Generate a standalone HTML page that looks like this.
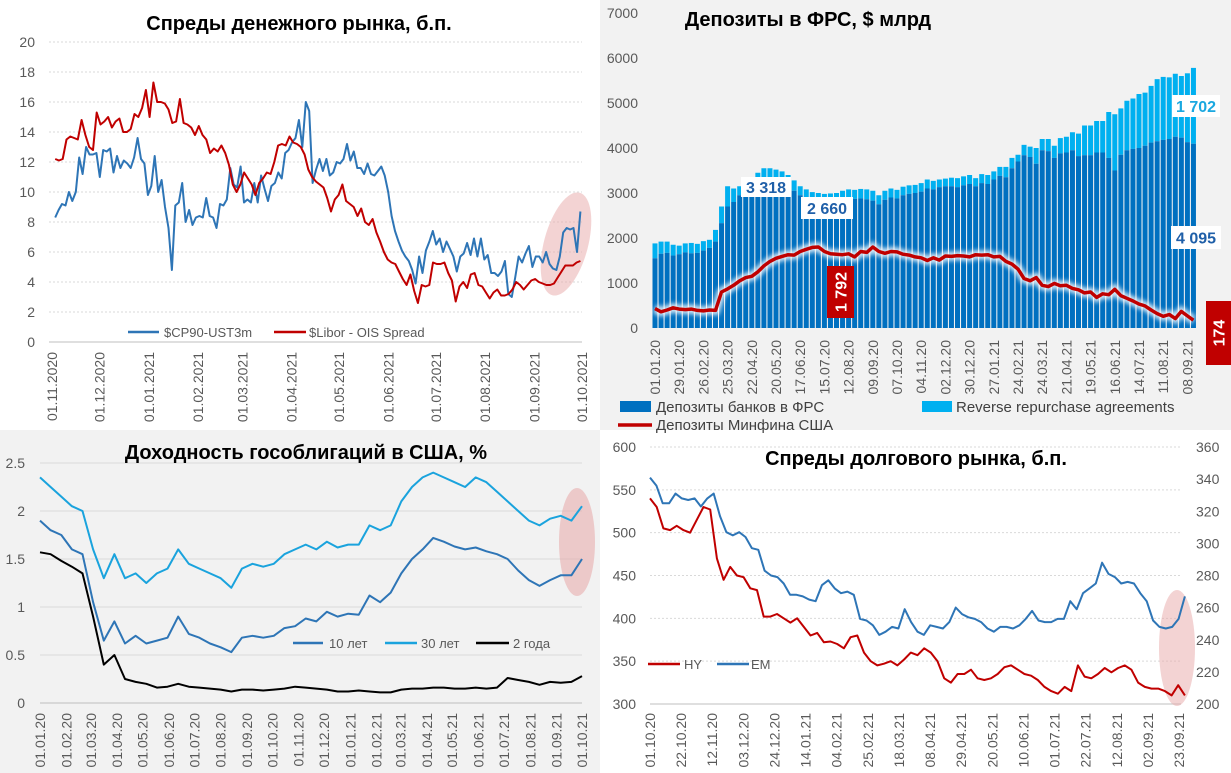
<!DOCTYPE html>
<html><head><meta charset="utf-8">
<style>
body{margin:0;width:1231px;height:773px;overflow:hidden;background:#fff;font-family:"Liberation Sans","DejaVu Sans",sans-serif;}
svg{display:block}
</style></head>
<body>
<svg id="c" width="1231" height="773" xmlns="http://www.w3.org/2000/svg">
<defs><filter id="glow" x="-5%" y="-50%" width="110%" height="200%"><feGaussianBlur stdDeviation="2.5"/></filter></defs>
<rect x="0" y="0" width="600" height="430" fill="#ffffff"/>
<rect x="600" y="0" width="631" height="430" fill="#f2f2f2"/>
<rect x="0" y="430" width="600" height="343" fill="#f2f2f2"/>
<rect x="600" y="430" width="631" height="343" fill="#ffffff"/>
</svg>
<script>
// ===== Chart 1: money market spreads =====
const c1Ticks = ["01.11.2020","01.12.2020","01.01.2021","01.02.2021","01.03.2021","01.04.2021","01.05.2021","01.06.2021","01.07.2021","01.08.2021","01.09.2021","01.10.2021"];
const c1YTicks = [0,2,4,6,8,10,12,14,16,18,20];
const c1Cp90 = [8.3,8.8,9.2,9.1,10,9.4,10,12.3,11.2,13,12.5,12.5,12.6,11,12.8,12.7,12.9,11.3,12.4,11.6,12.1,11.9,11.6,12.3,13.6,12.2,11.9,9.8,10.4,12.4,10,10.8,9,7.6,4.8,9.1,9.3,10.6,8,8.8,7.8,8.3,8.4,8.3,9.6,8.4,8.3,7.6,9.2,9.1,9.5,11.6,10.5,10.3,11.7,9.3,9.5,9.3,10.6,9.3,11.1,10.2,9.4,10.4,10.6,11.3,10.9,12.6,12.8,13.3,13.6,14.8,13,16,15.4,10.6,11.5,12.2,11.4,12.2,11.1,11.3,12,11.9,12.2,13.2,12.1,12.7,11.6,11.6,11.2,11.9,11.2,11.1,11.4,11.7,11.1,10,8.4,7.4,6.7,6.1,5.7,5.4,4.8,3.9,5.7,4.6,6.1,6.7,7.4,6.5,6.9,6,6.7,6.2,5.7,4.7,5.7,5.9,6.6,5.8,6.9,5.7,6.9,5.5,5.8,4.6,4.6,4.4,4.7,5.4,3.2,3.0,4.3,5.7,5.3,5.9,6.4,5.0,5.7,5.7,5.3,6.0,5.2,4.9,4.8,5.7,7.3,7.6,7.5,7.6,6,8.7];
const c1Libor = [12.2,12.1,12.2,13.5,13.7,13.6,13.5,14.8,13.8,13,12.8,15.3,14.5,14.7,15,14.3,14.7,14.9,14,14,14.2,15.2,15,15.6,16.8,15,17.3,16,16,15.9,15.5,14.6,14.7,16.2,14.6,14.5,14.3,13.8,14.4,13.8,13.5,12.6,12.9,12.7,13.1,12.6,11.8,10.5,10,10.5,11.3,10.9,10.5,9.8,10.6,10.9,11.3,11.2,12.0,13.1,13.2,13.1,13.7,13.3,13.2,13,12.5,11.5,11,10.7,10.5,10.3,9.6,8.7,9.5,9.8,10.5,9.4,9.2,9.0,8.4,8.9,8.0,7.8,8.2,7.3,6.7,6.0,5.5,5.3,5.2,4.7,4.2,3.8,4.5,3.4,2.6,3.8,3.7,3.8,5.3,5.2,5.2,5.3,4.6,4.1,2.7,3.7,4.0,3.6,4.5,4.6,3.8,3.7,3.3,2.9,3.3,3.5,3.1,3.1,3.2,3.5,4.0,3.8,3.5,3.8,4.1,4.2,4.0,3.9,3.8,3.8,3.9,4.3,4.7,5.1,5.1,5.1,5.3,5.4];

// ===== Chart 2: Fed deposits =====
const c2Ticks = ["01.01.20","29.01.20","26.02.20","25.03.20","22.04.20","20.05.20","17.06.20","15.07.20","12.08.20","09.09.20","07.10.20","04.11.20","02.12.20","30.12.20","27.01.21","24.02.21","24.03.21","21.04.21","19.05.21","16.06.21","14.07.21","11.08.21","08.09.21"];
const c2YTicks = [0,1000,2000,3000,4000,5000,6000,7000];
const c2Banks = [1550,1650,1670,1610,1640,1680,1660,1670,1720,1780,1920,2330,2700,2800,2950,3000,3100,3200,3300,3318,3280,3200,3100,3050,2950,2850,2750,2700,2660,2700,2750,2800,2850,2870,2880,2860,2830,2750,2850,2900,2880,2950,2980,3000,3030,3100,3080,3130,3150,3150,3130,3170,3200,3150,3220,3200,3300,3380,3350,3550,3700,3840,3800,3650,3950,3930,3780,3880,3900,3950,3820,3840,3840,3900,3900,3780,3500,3850,3950,3980,4000,4050,4120,4150,4180,4200,4250,4230,4130,4095];
const c2Total = [1880,1920,1920,1850,1830,1880,1890,1870,1930,1960,2180,2700,3150,3100,3150,3200,3300,3450,3550,3550,3520,3480,3400,3280,3150,3080,3020,3000,2980,2990,3000,3050,3080,3070,3090,3080,3050,2950,3050,3100,3070,3140,3170,3180,3220,3300,3270,3300,3320,3340,3330,3370,3400,3330,3420,3400,3480,3580,3580,3780,3850,4070,4030,4000,4200,4200,4050,4220,4250,4350,4320,4500,4500,4600,4600,4800,4750,4880,5050,5100,5200,5230,5380,5530,5580,5570,5650,5600,5660,5780];
const c2Treasury = [430,360,400,450,420,410,420,390,380,400,390,800,870,950,1050,1120,1150,1250,1380,1480,1550,1590,1630,1620,1700,1750,1792,1800,1700,1650,1640,1630,1650,1580,1700,1680,1800,1700,1660,1700,1690,1640,1620,1580,1560,1500,1560,1510,1600,1590,1610,1600,1580,1630,1620,1630,1580,1590,1480,1420,1310,1100,1050,1120,950,920,990,940,950,880,850,780,800,680,760,740,860,720,660,600,530,490,400,320,260,300,210,370,270,174];

// ===== Chart 3: Treasury yields =====
const c3Ticks = ["01.01.20","01.02.20","01.03.20","01.04.20","01.05.20","01.06.20","01.07.20","01.08.20","01.09.20","01.10.20","01.11.20","01.12.20","01.01.21","01.02.21","01.03.21","01.04.21","01.05.21","01.06.21","01.07.21","01.08.21","01.09.21","01.10.21"];
const c3YTicks = [0,0.5,1,1.5,2,2.5];
const c3Y10 = [1.9,1.8,1.75,1.6,1.55,1.05,0.65,0.85,0.62,0.7,0.62,0.65,0.68,0.9,0.72,0.68,0.62,0.58,0.53,0.68,0.7,0.68,0.7,0.78,0.8,0.88,0.85,0.95,0.9,0.93,0.92,1.12,1.05,1.15,1.35,1.5,1.6,1.72,1.68,1.63,1.6,1.62,1.58,1.55,1.5,1.38,1.28,1.22,1.28,1.33,1.33,1.5];
const c3Y30 = [2.35,2.25,2.15,2.05,2.0,1.6,1.3,1.55,1.3,1.35,1.25,1.35,1.4,1.6,1.45,1.4,1.35,1.3,1.2,1.4,1.45,1.42,1.45,1.55,1.6,1.65,1.6,1.68,1.62,1.65,1.65,1.85,1.8,1.85,2.1,2.25,2.35,2.4,2.35,2.3,2.25,2.35,2.3,2.2,2.1,2.0,1.9,1.85,1.92,1.95,1.9,2.05];
const c3Y2 = [1.57,1.55,1.48,1.42,1.35,0.9,0.4,0.5,0.25,0.22,0.2,0.16,0.17,0.2,0.17,0.16,0.15,0.14,0.12,0.14,0.14,0.13,0.14,0.15,0.17,0.16,0.15,0.14,0.12,0.12,0.13,0.12,0.11,0.11,0.14,0.15,0.15,0.16,0.16,0.15,0.15,0.16,0.15,0.16,0.26,0.24,0.22,0.19,0.22,0.21,0.22,0.28];

// ===== Chart 4: debt market spreads =====
const c4Ticks = ["01.10.20","22.10.20","12.11.20","03.12.20","24.12.20","14.01.21","04.02.21","25.02.21","18.03.21","08.04.21","29.04.21","20.05.21","10.06.21","01.07.21","22.07.21","12.08.21","02.09.21","23.09.21"];
const c4LeftTicks = [300,350,400,450,500,550,600];
const c4RightTicks = [200,220,240,260,280,300,320,340,360];
const c4HY = [540,530,505,503,508,503,500,515,530,527,470,445,460,450,448,435,433,402,402,405,400,395,400,390,380,383,372,373,370,365,378,380,360,350,345,347,350,345,352,360,357,365,360,350,330,325,335,335,340,330,328,330,335,343,345,340,335,333,328,320,315,312,320,315,345,332,330,335,342,337,342,345,340,325,320,318,318,315,310,322,310];
const c4EM = [341,336,325,325,331,328,327,328,323,328,331,317,307,305,307,304,297,296,283,280,279,275,268,268,267,265,264,274,277,272,269,270,268,253,252,249,243,245,248,247,259,251,245,243,249,248,247,251,260,256,254,253,251,247,245,248,248,247,249,253,258,252,251,251,253,253,264,259,269,272,275,288,281,279,275,276,275,269,264,252,248,247,248,253,267];

const NS = "http://www.w3.org/2000/svg";
const svg = document.getElementById('c');
function mk(tag, attrs, parent){
  const e = document.createElementNS(NS, tag);
  for (const k in attrs) e.setAttribute(k, attrs[k]);
  (parent || svg).appendChild(e);
  return e;
}
function txt(x, y, s, attrs){
  const t = mk('text', Object.assign({x:x, y:y}, attrs||{}));
  t.textContent = s;
  return t;
}
function pathFrom(vals, xf, yf){
  return vals.map((v,i)=>(i?'L':'M')+xf(i).toFixed(1)+' '+yf(v).toFixed(1)).join(' ');
}
const DAY = 86400000;
function dnum(s){ const p=s.split('.'); let y=+p[2]; if(y<100) y+=2000; return Date.UTC(y,+p[1]-1,+p[0])/DAY; }
const tickStyle = {'font-size':'13', fill:'#595959'};

// ---------- Chart 1 ----------
const c1Start = dnum("01.11.2020"), c1End = dnum("01.10.2021");
const x1 = d => 52 + (d - c1Start)/(c1End - c1Start)*530;
const y1 = v => 342 - v*15;
c1YTicks.forEach(v=>{
  const g = mk('line',{x1:49,x2:582,y1:y1(v),y2:y1(v),stroke: v===0?'#bfbfbf':'#d9d9d9','stroke-dasharray': v===0?'none':'2 2','stroke-width':1});
  
  
  const t = txt(35, y1(v)+5, String(v), Object.assign({'text-anchor':'end'}, tickStyle, {'font-size':'14'}));
  
  
});
c1Ticks.forEach(s=>{
  const x = x1(dnum(s));
  const t = txt(0,0,s,Object.assign({'text-anchor':'end',transform:`translate(${x+5},352) rotate(-90)`}, tickStyle, {'font-size':'14'}));
  
  
});
const c1s0 = c1Start+2, c1s1 = c1End-1;
const e1 = mk('ellipse',{cx:566,cy:244,rx:22,ry:53,fill:'#e8a8a8','fill-opacity':0.5,transform:'rotate(15 566 244)'});


const p1b = mk('path',{d:pathFrom(c1Cp90, i=>x1(c1s0+i*(c1s1-c1s0)/(c1Cp90.length-1)), y1), fill:'none', stroke:'#2e75b6','stroke-width':2,'stroke-linejoin':'round'});


const p1r = mk('path',{d:pathFrom(c1Libor, i=>x1(c1s0+i*(c1s1-c1s0)/(c1Libor.length-1)), y1), fill:'none', stroke:'#c00000','stroke-width':2,'stroke-linejoin':'round'});


const t1 = txt(299, 30, 'Спреды денежного рынка, б.п.', {'text-anchor':'middle','font-size':'20','font-weight':'bold',fill:'#000'});


const l1a = mk('line',{x1:128,x2:159,y1:332,y2:332,stroke:'#2e75b6','stroke-width':2.5});


const l1at = txt(164,337,'$CP90-UST3m',{'font-size':'13',fill:'#595959'});


const l1b = mk('line',{x1:274,x2:306,y1:332,y2:332,stroke:'#c00000','stroke-width':2.5});


const l1bt = txt(309,337,'$Libor - OIS Spread',{'font-size':'13',fill:'#595959'});



// ---------- Chart 2 ----------
const x2 = i => 655 + i*6.05;
const y2 = v => 328 - v*0.045;
c2YTicks.forEach(v=>{
  const t = txt(638, y2(v)+5, String(v), Object.assign({'text-anchor':'end'}, tickStyle, {'font-size':'14'}));
  
  
});
c2Ticks.forEach((s,k)=>{
  const x = x2(k*4);
  const t = txt(0,0,s,Object.assign({'text-anchor':'end',transform:`translate(${x+5},340) rotate(-90)`}, tickStyle, {'font-size':'14'}));
  
  
});
c2Total.forEach((v,i)=>{
  const r = mk('rect',{x:x2(i)-2.5,y:y2(v),width:5,height:y2(c2Banks[i])-y2(v),fill:'#00b0f0'});
  
  
});
c2Banks.forEach((v,i)=>{
  const r = mk('rect',{x:x2(i)-2.5,y:y2(v),width:5,height:y2(0)-y2(v),fill:'#0070c0'});
  
  
});
const tg = mk('path',{d:pathFrom(c2Treasury, x2, y2), fill:'none', stroke:'#ffffff','stroke-width':9,'stroke-opacity':0.85,filter:'url(#glow)'});


const tl = mk('path',{d:pathFrom(c2Treasury, x2, y2), fill:'none', stroke:'#c00000','stroke-width':3.5,'stroke-linejoin':'round'});


function lbl(x,y,w,h,s,col,name,bg,rot){
  const r = mk('rect',{x:x,y:y,width:w,height:h,fill:bg});
  
  
  const cx=x+w/2, cy=y+h/2;
  const t = txt(cx, cy+6, s, {'text-anchor':'middle','font-size':'16','font-weight':'bold',fill:col, transform: rot?`rotate(-90 ${cx} ${cy})`:''});
  
  
}
lbl(741,177,50,20,'3 318','#1f5fa8','label-3318','#ffffff',false);
lbl(801,197,52,22,'2 660','#1f5fa8','label-2660','#ffffff',false);
lbl(1172,95,48,22,'1 702','#1aa8e0','label-1702','#ffffff',false);
lbl(1171,226,50,23,'4 095','#1f5fa8','label-4095','#ffffff',false);
lbl(827,266,27,52,'1 792','#ffffff','label-1792','#c00000',true);
lbl(1206,301,25,64,'174','#ffffff','label-174','#c00000',true);
const t2 = txt(808, 26, 'Депозиты в ФРС, $ млрд', {'text-anchor':'middle','font-size':'20','font-weight':'bold',fill:'#000'});


const lg1 = mk('rect',{x:620,y:401,width:31,height:11,fill:'#0070c0'});


const lg1t = txt(656,412,'Депозиты банков в ФРС',{'font-size':'15',fill:'#404040'});


const lg2 = mk('rect',{x:922,y:401,width:30,height:11,fill:'#00b0f0'});


const lg2t = txt(956,412,'Reverse repurchase agreements',{'font-size':'15',fill:'#404040'});


const lg3 = mk('line',{x1:618,x2:652,y1:425,y2:425,stroke:'#c00000','stroke-width':3.5});


const lg3t = txt(656,430,'Депозиты Минфина США',{'font-size':'15',fill:'#404040'});



// ---------- Chart 3 ----------
const c3Start = dnum("01.01.20"), c3End = dnum("01.10.21");
const x3 = d => 40 + (d - c3Start)/(c3End - c3Start)*542;
const y3 = v => 703 - v*96;
c3YTicks.forEach(v=>{
  const g = mk('line',{x1:40,x2:582,y1:y3(v),y2:y3(v),stroke: v===0?'#bfbfbf':'#d9d9d9','stroke-width':1});
  
  
  const t = txt(25, y3(v)+5, String(v), Object.assign({'text-anchor':'end'}, tickStyle, {'font-size':'14'}));
  
  
});
c3Ticks.forEach(s=>{
  const x = x3(dnum(s));
  const t = txt(0,0,s,Object.assign({'text-anchor':'end',transform:`translate(${x+5},713) rotate(-90)`}, tickStyle, {'font-size':'14'}));
  
  
});
const e3 = mk('ellipse',{cx:577,cy:542,rx:18,ry:54,fill:'#e8a8a8','fill-opacity':0.55});


const c3x = n => i => x3(c3Start + i*(c3End-c3Start)/(n-1));
const p30 = mk('path',{d:pathFrom(c3Y30, c3x(c3Y30.length), y3), fill:'none', stroke:'#1aa3dd','stroke-width':2,'stroke-linejoin':'round'});


const p10 = mk('path',{d:pathFrom(c3Y10, c3x(c3Y10.length), y3), fill:'none', stroke:'#2e75b6','stroke-width':2,'stroke-linejoin':'round'});


const p2y = mk('path',{d:pathFrom(c3Y2, c3x(c3Y2.length), y3), fill:'none', stroke:'#000000','stroke-width':2,'stroke-linejoin':'round'});


const t3 = txt(306, 459, 'Доходность гособлигаций в США, %', {'text-anchor':'middle','font-size':'20','font-weight':'bold',fill:'#000'});


const la = mk('line',{x1:293,x2:323,y1:643,y2:643,stroke:'#2e75b6','stroke-width':2.5});


const lat = txt(329,648,'10 лет',{'font-size':'13',fill:'#595959'});


const lb = mk('line',{x1:385,x2:417,y1:643,y2:643,stroke:'#1aa3dd','stroke-width':2.5});


const lbt = txt(421,648,'30 лет',{'font-size':'13',fill:'#595959'});


const lc = mk('line',{x1:476,x2:509,y1:643,y2:643,stroke:'#000','stroke-width':2.5});


const lct = txt(513,648,'2 года',{'font-size':'13',fill:'#595959'});



// ---------- Chart 4 ----------
const c4Start = dnum("01.10.20"), c4End = dnum("23.09.21");
const x4 = d => 650 + (d - c4Start)/(c4End - c4Start)*529;
const yL = v => 704 - (v-300)*0.8567;
const yR = v => 704 - (v-200)*1.606;
c4LeftTicks.forEach(v=>{
  const g = mk('line',{x1:650,x2:1181,y1:yL(v),y2:yL(v),stroke: v===300?'#bfbfbf':'#d9d9d9','stroke-dasharray': v===300?'none':'2 2','stroke-width':1});
  
  
  const t = txt(636, yL(v)+5, String(v), Object.assign({'text-anchor':'end'}, tickStyle, {'font-size':'14'}));
  
  
});
c4RightTicks.forEach(v=>{
  const t = txt(1196, yR(v)+5, String(v), Object.assign({'text-anchor':'start'}, tickStyle, {'font-size':'14'}));
  
  
});
c4Ticks.forEach(s=>{
  const x = x4(dnum(s));
  const t = txt(0,0,s,Object.assign({'text-anchor':'end',transform:`translate(${x+5},713) rotate(-90)`}, tickStyle, {'font-size':'14'}));
  
  
});
const e4 = mk('ellipse',{cx:1177,cy:648,rx:18,ry:58,fill:'#e8a8a8','fill-opacity':0.5});


const c4e = c4Start + 361;
const c4x = n => i => x4(c4Start + i*(c4e-c4Start)/(n-1));
const pem = mk('path',{d:pathFrom(c4EM, c4x(c4EM.length), yR), fill:'none', stroke:'#2e75b6','stroke-width':2,'stroke-linejoin':'round'});


const phy = mk('path',{d:pathFrom(c4HY, c4x(c4HY.length), yL), fill:'none', stroke:'#c00000','stroke-width':2,'stroke-linejoin':'round'});


const t4 = txt(916, 465, 'Спреды долгового рынка, б.п.', {'text-anchor':'middle','font-size':'20','font-weight':'bold',fill:'#000'});


const lh = mk('line',{x1:648,x2:680,y1:664,y2:664,stroke:'#c00000','stroke-width':2.5});


const lht = txt(684,669,'HY',{'font-size':'13',fill:'#595959'});


const le = mk('line',{x1:717,x2:749,y1:664,y2:664,stroke:'#2e75b6','stroke-width':2.5});


const let_ = txt(751,669,'EM',{'font-size':'13',fill:'#595959'});


</script>
</body></html>
